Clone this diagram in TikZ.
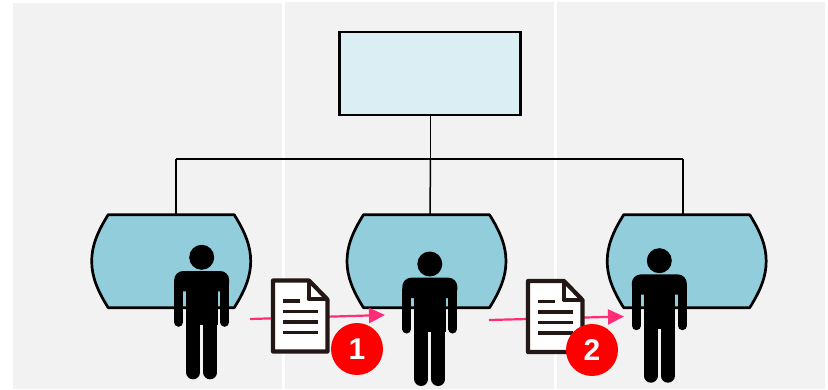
\documentclass[tikz,border=0pt]{standalone}
\usepackage{fontspec}
\setmainfont{Liberation Sans}
\usetikzlibrary{arrows.meta}
\definecolor{panelgray}{HTML}{F2F2F2}
\definecolor{topfill}{HTML}{DAEEF3}
\definecolor{procfill}{HTML}{92CDDC}
\definecolor{docink}{HTML}{231815}
\definecolor{flowpink}{HTML}{FF2D78}
\tikzset{
  panel/.style={fill=panelgray,draw=none},
  topbox/.style={draw=black,fill=topfill,line width=2.7pt,minimum width=181pt,minimum height=83pt,inner sep=0pt,outer sep=0pt},
  tree/.style={draw=black,line width=1.5pt},
  flow/.style={draw=flowpink,line width=2.2pt,-{Triangle[length=16pt,width=15pt]}},
  badge/.style={circle,fill=red,minimum size=52pt,inner sep=0pt,text=white,font=\fontsize{30}{30}\selectfont\bfseries},
  procshape/.pic={
    \draw[black,fill=procfill,line width=2.7pt,line join=round]
      (-63,-46.5) -- (63,-46.5)
      .. controls (74,-29) and (79.5,-15) .. (79.5,0)
      .. controls (79.5,15) and (74,29) .. (63,46.5)
      -- (-63,46.5)
      .. controls (-74,29) and (-79.5,15) .. (-79.5,0)
      .. controls (-79.5,-15) and (-74,-29) .. (-63,-46.5) -- cycle;
  },
  person/.pic={
    \fill[black] (0,0) circle[radius=12.5];
    \fill[black,rounded corners=9pt] (-27.5,34) -- (-27.5,13.7) -- (27.5,13.7) -- (27.5,34) -- cycle;
    \fill[black] (-15.8,20) rectangle (15.8,68);
    \draw[black,line width=9pt,line cap=round] (-23,26) -- (-23,65);
    \draw[black,line width=9pt,line cap=round] (23,26) -- (23,65);
    \draw[black,line width=14pt,line cap=round] (-8.5,60) -- (-8.5,115);
    \draw[black,line width=14pt,line cap=round] (8.5,60) -- (8.5,115);
  },
  document/.pic={
    \draw[docink,fill=white,line width=4.2pt,line join=round]
      (0,0) -- (36,0) -- (54.5,19) -- (54.5,71) -- (0,71) -- cycle;
    \draw[docink,line width=4pt,line join=round,line cap=round]
      (35.5,1) -- (35.5,18.5) -- (53.5,18.5);
    \draw[docink,line width=3.6pt] (10,20.5) -- (27,20.5);
    \draw[docink,line width=3.6pt] (10,31) -- (44.5,31);
    \draw[docink,line width=3.6pt] (10,41.5) -- (44.5,41.5);
    \draw[docink,line width=3.6pt] (10,52) -- (44.5,52);
  }
}
\begin{document}
\begin{tikzpicture}[x=1pt,y=-1pt]
\useasboundingbox (0,0) rectangle (828,389);
\fill[white] (0,0) rectangle (828,389);
\fill[panel] (13,3) rectangle (282,389);
\fill[panel] (285,2) rectangle (554,389);
\fill[panel] (557,2) rectangle (825,389);

\node[topbox] (top) at (430,73.5) {};
\coordinate (hub) at (430.5,159);
\coordinate (left) at (176,159);
\coordinate (right) at (683,159);
\coordinate (leftend) at (176,215);
\coordinate (midend) at (430,215);
\coordinate (rightend) at (683,215);
\draw[tree] (top.south -| hub) -- (hub);
\draw[tree] (left) -- (right);
\draw[tree] (left) -- (leftend);
\draw[tree] (hub) -- (midend);
\draw[tree] (right) -- (rightend);

\pic at (171.2,261.2) {procshape};
\pic at (426.5,261.2) {procshape};
\pic at (686.7,261.2) {procshape};

\pic at (201.7,257.3) {person};
\pic at (429.8,264) {person};
\pic at (659.3,260.7) {person};

\coordinate (f1a) at (250,319);
\coordinate (f1b) at (385,315);
\coordinate (f2a) at (489,320);
\coordinate (f2b) at (624,316.5);
\draw[flow] (f1a) -- (f1b);
\draw[flow] (f2a) -- (f2b);

\pic at (273,280.5) {document};
\pic at (528,281) {document};

\node[badge] (one) at (357,349) {1};
\node[badge] (two) at (592,350) {2};
\end{tikzpicture}
\end{document}
